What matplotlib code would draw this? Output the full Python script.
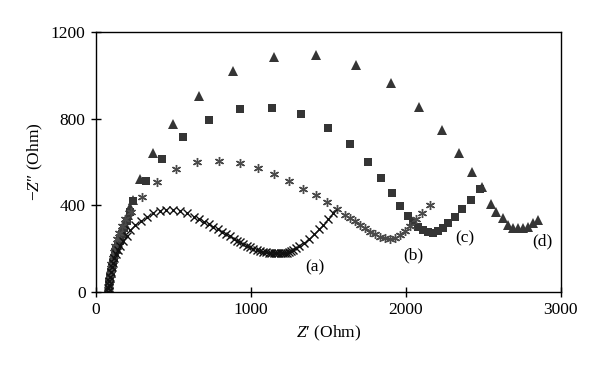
import matplotlib
matplotlib.use("Agg")
import matplotlib.pyplot as plt

plt.rcParams['font.family'] = ['Liberation Serif', 'DejaVu Serif']
plt.rcParams['mathtext.fontset'] = 'custom'
plt.rcParams['mathtext.rm'] = 'Liberation Serif'
plt.rcParams['mathtext.it'] = 'Liberation Serif:italic'

# (a) crosses
a_x = [78, 80, 83, 86, 90, 95, 101, 108, 117, 127, 140, 156, 176, 198, 221, 255, 290, 328, 366, 410,
       455, 500, 545, 590, 633, 668, 699, 729, 757, 785, 811, 838, 865, 888, 908, 930, 951, 973, 994,
       1015, 1037, 1058, 1080, 1098, 1115, 1132, 1148, 1163, 1178, 1192, 1206, 1220, 1234, 1248, 1262,
       1274, 1290, 1312, 1345, 1377, 1409, 1442, 1468, 1500, 1532]
a_y = [0, 15, 32, 50, 70, 90, 112, 134, 155, 175, 195, 213, 233, 258, 285, 307, 328, 346, 363, 372,
       377, 377, 374, 362, 347, 336, 324, 312, 301, 289, 278, 268, 258, 246, 236, 228, 221, 213, 205,
       199, 193, 189, 185, 182, 180, 179, 178, 178, 178, 178, 178, 179, 181, 184, 189,
       195, 203, 213, 227, 244, 265, 289, 308, 336, 363]

# (b) asterisks
b_x = [79, 82, 85, 89, 94, 100, 107, 115, 125, 137, 151, 168, 190, 224, 295, 391, 516, 654, 796, 930,
       1048, 1151, 1248, 1336, 1422, 1493, 1554, 1607, 1640, 1672, 1704, 1737, 1769, 1801, 1834, 1866,
       1898, 1930, 1963, 1995, 2027, 2065, 2103, 2155]
b_y = [0, 25, 50, 75, 100, 127, 155, 183, 212, 242, 272, 302, 335, 370, 439, 506, 566, 600, 606, 595,
       571, 544, 510, 477, 447, 413, 383, 355, 340, 325, 308, 293, 278, 265, 254, 247,
       244, 250, 262, 282, 305, 335, 363, 400]

# (c) squares
c_x = [81, 84, 87, 91, 96, 102, 108, 115, 123, 132, 142, 153, 166, 181, 198, 218, 241, 323, 424, 560,
       729, 928, 1134, 1323, 1500, 1642, 1758, 1842, 1913, 1964, 2012, 2049, 2081, 2113, 2145, 2178,
       2210, 2240, 2275, 2318, 2365, 2419, 2481]
c_y = [0, 22, 44, 66, 88, 110, 132, 155, 178, 200, 222, 245, 268, 295, 325, 370, 421, 513, 614, 714,
       794, 844, 851, 820, 759, 682, 601, 526, 457, 398, 352, 324, 301, 285, 275, 272,
       280, 295, 316, 344, 382, 424, 477]

# (d) triangles
d_x = [80, 83, 86, 90, 95, 100, 106, 112, 119, 127, 136, 146, 157, 170, 185, 205, 220, 237, 284, 370,
       495, 665, 886, 1147, 1420, 1679, 1903, 2085, 2232, 2345, 2425, 2494, 2548, 2582, 2629, 2662,
       2694, 2726, 2759, 2791, 2823, 2852]
d_y = [0, 20, 40, 62, 85, 108, 130, 152, 174, 196, 218, 240, 262, 285, 315, 355, 390, 424, 521, 640,
       774, 907, 1022, 1084, 1095, 1049, 964, 856, 747, 643, 552, 486, 406, 370, 340, 309,
       293, 293, 293, 301, 316, 332]

labels = ['(a)', '(b)', '(c)', '(d)']
label_pos = [(1410, 112), (2048, 168), (2378, 245), (2884, 231)]

fig = plt.figure(figsize=(6.0, 3.73), dpi=100)
ax = fig.add_axes([0.16, 0.218, 0.7745, 0.6954])

ax.plot(d_x, d_y, linestyle='none', marker='^', markersize=7.2, color='#353535', markeredgewidth=0)
ax.plot(c_x, c_y, linestyle='none', marker='s', markersize=5.2, color='#353535', markeredgewidth=0)
ax.plot(b_x, b_y, linestyle='none', marker=(6, 2, 0), markersize=6.5, color='#4a4a4a', markeredgewidth=1.0)
ax.plot(a_x, a_y, linestyle='none', marker='x', markersize=6, color='#111111', markeredgewidth=1.0)

for lab, (lx, ly) in zip(labels, label_pos):
    ax.text(lx, ly, lab, fontsize=12.5, ha='center', va='center')

ax.set_xlim(0, 3000)
ax.set_ylim(0, 1200)
ax.set_xticks([0, 1000, 2000, 3000])
ax.set_yticks([0, 400, 800, 1200])
ax.tick_params(direction='inout', length=7, width=1, labelsize=12.5, pad=4)
for s in ax.spines.values():
    s.set_linewidth(1.0)
ax.set_xlabel("$Z$\u2032 (Ohm)", fontsize=12.5)
ax.set_ylabel("\u2212$Z$\u2033 (Ohm)", fontsize=12.5)

fig.savefig('out.png', dpi=100)
